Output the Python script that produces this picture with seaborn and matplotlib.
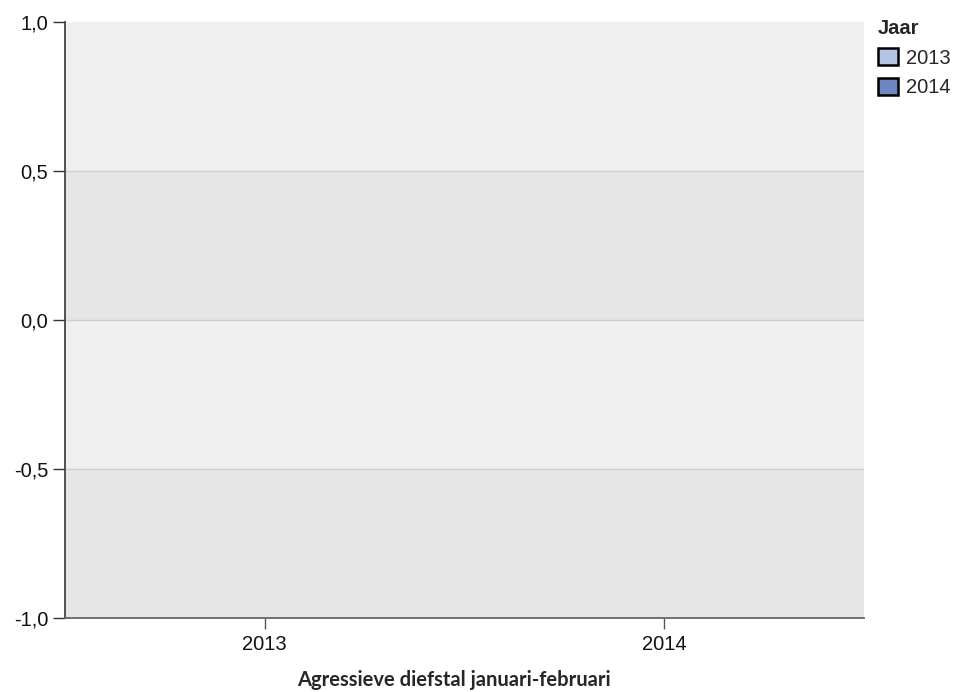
import matplotlib
matplotlib.use("Agg")
import matplotlib.pyplot as plt
from matplotlib.patches import Patch
from matplotlib.ticker import FuncFormatter
import seaborn as sns
import pandas as pd

# data (no incidents registered -> zero height bars)
jaren = ["2013", "2014"]
waarden = [0.0, 0.0]
kleuren = ["#b4c4e4", "#6e87c0"]
y_ticks = [-1.0, -0.5, 0.0, 0.5, 1.0]

df = pd.DataFrame({"Jaar": jaren, "waarde": waarden})

sns.set_style("white")
plt.rcParams["font.family"] = ["Liberation Sans", "DejaVu Sans"]

fig = plt.figure(figsize=(9.63, 6.92), dpi=100)
ax = fig.add_axes([65 / 963, 1 - 618 / 692, (864 - 65) / 963, (618 - 22) / 692])

# alternating background bands
for i in range(len(y_ticks) - 1):
    ax.axhspan(y_ticks[i], y_ticks[i + 1],
               color="#e6e6e6" if i % 2 == 0 else "#efefef", lw=0, zorder=0)
for t in y_ticks[1:-1]:
    ax.axhline(t, color="#cfcfcf", lw=1, zorder=1)

sns.barplot(data=df, x="Jaar", y="waarde", hue="Jaar", palette=kleuren,
            dodge=False, linewidth=0, legend=False, ax=ax, zorder=2)

ax.set_ylim(-1, 1)
ax.set_yticks(y_ticks)
ax.yaxis.set_major_formatter(FuncFormatter(lambda v, p: f"{v:.1f}".replace(".", ",")))
ax.set_xlim(-0.5, 1.5)

for s in ["top", "right"]:
    ax.spines[s].set_visible(False)
ax.spines["left"].set_color("#444444")
ax.spines["bottom"].set_color("#666666")
for s in ["left", "bottom"]:
    ax.spines[s].set_linewidth(1.3)

ax.tick_params(axis="y", length=8.5, width=1, color="#333333", labelsize=14.5,
               labelcolor="#111111", pad=3.5, left=True)
ax.tick_params(axis="x", length=8, width=1, color="#555555", labelsize=14.5,
               labelcolor="#111111", pad=4, bottom=True)
ax.set_ylabel("")
ax.set_xlabel("Agressieve diefstal januari-februari", fontsize=14.5, fontweight="bold",
              family=["Lato", "DejaVu Sans"])
ax.xaxis.set_label_coords((454 - 65) / 799, -(670 - 618) / 596)

handles = [Patch(facecolor=c, edgecolor="black", lw=1.8) for c in kleuren]
leg = fig.legend(handles, jaren, title="Jaar", loc="upper left",
                 bbox_to_anchor=(878 / 963, 1 - 19 / 692), frameon=False,
                 fontsize=14.5, handlelength=1.0, handleheight=0.95,
                 handletextpad=0.4, labelspacing=0.5, borderpad=0,
                 borderaxespad=0)
leg.get_title().set_fontweight("bold")
leg.get_title().set_fontsize(14.5)
leg._legend_box.align = "left"

fig.savefig("out.png", dpi=100)
